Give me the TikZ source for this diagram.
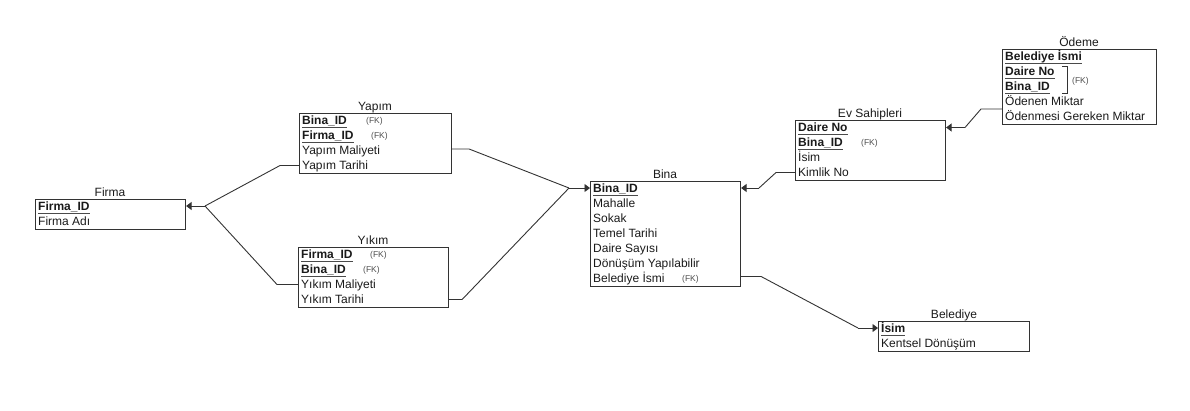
\documentclass[tikz,border=0pt]{standalone}
\usepackage{fontspec}
\setmainfont{Liberation Sans}
\usetikzlibrary{arrows.meta}
\definecolor{ln}{HTML}{333333}
\definecolor{txt}{HTML}{1a1a1a}
\definecolor{fkc}{HTML}{4d4d4d}
\definecolor{ulc}{HTML}{4a4a4a}
\newsavebox\pkeybox
\newcommand\pkey[1]{\sbox\pkeybox{\textbf{#1}}\rlap{\textcolor{ulc}{\rule[-3.6pt]{\wd\pkeybox}{1.1pt}}}\usebox\pkeybox}
\begin{document}
\begin{tikzpicture}[x=1pt,y=-1pt,
  tbl/.style={draw=ln, line width=1.1pt, anchor=north west, inner sep=0pt, minimum width=150pt},
  row/.style={anchor=base west, inner sep=0pt, text=txt, font=\fontsize{12}{14}\selectfont},
  ttl/.style={anchor=base, inner sep=0pt, text=txt, font=\fontsize{12}{14}\selectfont},
  fk/.style={anchor=base west, inner sep=0pt, text=fkc, font=\fontsize{8.5}{10}\selectfont},
  conn/.style={draw=ln, line width=0.9pt},
  arr/.style={-{Triangle[length=5.5pt,width=8pt]}}]
\useasboundingbox (0,0) rectangle (1190,410);

% ---------- Firma ----------
\node[tbl, minimum height=30pt] (firma) at (35,198.5) {};
\node[ttl] (firma-t) at (110,196) {Firma};
\node[row] (firma-1) at (38,210) {\pkey{Firma\_ID}};
\node[row] (firma-2) at (38,225) {Firma Adı};

% ---------- Yapim ----------
\node[tbl, minimum width=152pt, minimum height=60pt] (yapim) at (299,113) {};
\node[ttl] (yapim-t) at (375,110.5) {Yapım};
\node[row] (yapim-1) at (302,124.5) {\pkey{Bina\_ID}};
\node[fk] (yapim-1fk) at (366,123.5) {(FK)};
\node[row] (yapim-2) at (302,139.5) {\pkey{Firma\_ID}};
\node[fk] (yapim-2fk) at (371,138.5) {(FK)};
\node[row] (yapim-3) at (302,154.5) {Yapım Maliyeti};
\node[row] (yapim-4) at (302,169.5) {Yapım Tarihi};

% ---------- Yikim ----------
\node[tbl, minimum width=150pt, minimum height=60pt] (yikim) at (298,247) {};
\node[ttl] (yikim-t) at (373,244.5) {Yıkım};
\node[row] (yikim-1) at (301,258.5) {\pkey{Firma\_ID}};
\node[fk] (yikim-1fk) at (370,257.5) {(FK)};
\node[row] (yikim-2) at (301,273.5) {\pkey{Bina\_ID}};
\node[fk] (yikim-2fk) at (363,272.5) {(FK)};
\node[row] (yikim-3) at (301,288.5) {Yıkım Maliyeti};
\node[row] (yikim-4) at (301,303.5) {Yıkım Tarihi};

% ---------- Bina ----------
\node[tbl, minimum height=105pt] (bina) at (590,180.5) {};
\node[ttl] (bina-t) at (665,178) {Bina};
\node[row] (bina-1) at (593,192) {\pkey{Bina\_ID}};
\node[row] (bina-2) at (593,207) {Mahalle};
\node[row] (bina-3) at (593,222) {Sokak};
\node[row] (bina-4) at (593,237) {Temel Tarihi};
\node[row] (bina-5) at (593,252) {Daire Sayısı};
\node[row] (bina-6) at (593,267) {Dönüşüm Yapılabilir};
\node[row] (bina-7) at (593,282) {Belediye İsmi};
\node[fk] (bina-7fk) at (682,281) {(FK)};

% ---------- Ev Sahipleri ----------
\node[tbl, minimum height=60pt] (ev) at (795,120) {};
\node[ttl] (ev-t) at (870,117.5) {Ev Sahipleri};
\node[row] (ev-1) at (798,131.5) {\pkey{Daire No}};
\node[row] (ev-2) at (798,146.5) {\pkey{Bina\_ID}};
\node[fk] (ev-2fk) at (861,145.5) {(FK)};
\node[row] (ev-3) at (798,161.5) {İsim};
\node[row] (ev-4) at (798,176.5) {Kimlik No};

% ---------- Odeme ----------
\node[tbl, minimum width=154pt, minimum height=75pt] (odeme) at (1002,49) {};
\node[ttl] (odeme-t) at (1079,46.5) {Ödeme};
\node[row] (odeme-1) at (1005,60.5) {\pkey{Belediye İsmi}};
\node[row] (odeme-2) at (1005,75.5) {\pkey{Daire No}};
\node[row] (odeme-3) at (1005,90.5) {\pkey{Bina\_ID}};
\node[row] (odeme-4) at (1005,105.5) {Ödenen Miktar};
\node[row] (odeme-5) at (1005,120.5) {Ödenmesi Gereken Miktar};
\draw[ln, line width=1pt] (1062,66.5) -- (1067.5,66.5) -- (1067.5,93) -- (1062,93);
\node[fk] (odeme-fk) at (1072,83) {(FK)};

% ---------- Belediye ----------
\node[tbl, minimum width=151pt, minimum height=30pt] (belediye) at (878,320.5) {};
\node[ttl] (belediye-t) at (954,318) {Belediye};
\node[row] (belediye-1) at (881,332) {\pkey{İsim}};
\node[row] (belediye-2) at (881,347) {Kentsel Dönüşüm};

% ---------- junctions ----------
\coordinate (jf) at (205,206);
\coordinate (jb) at (569,188);
\coordinate (eb) at (759,188);
\coordinate (oe) at (965,127.5);
\coordinate (bl) at (858,328);

% ---------- connectors ----------
\draw[conn] ([yshift=-52.5pt]yapim.north west) -- ++(-19,0) -- (jf);
\draw[conn] ([yshift=-37.5pt]yikim.north west) -- ++(-21,0) -- (jf);
\draw[conn,arr] (jf) -- ([yshift=-7.5pt]firma.north east);

\draw[conn] ([yshift=-36pt]yapim.north east) -- ++(17,0) -- (jb);
\draw[conn] ([yshift=-52.5pt]yikim.north east) -- ++(13,0) -- (jb);
\draw[conn,arr] (jb) -- ([yshift=-7.5pt]bina.north west);

\draw[conn] ([yshift=-52.5pt]ev.north west) -- ++(-19,0) -- (eb);
\draw[conn,arr] (eb) -- ([yshift=-7.5pt]bina.north east);

\draw[conn] ([yshift=-60pt]odeme.north west) -- ++(-21,0) -- (oe);
\draw[conn,arr] (oe) -- ([yshift=-7.5pt]ev.north east);

\draw[conn] ([yshift=-96pt]bina.north east) -- ++(20,0) -- (bl);
\draw[conn,arr] (bl) -- ([yshift=-7.5pt]belediye.north west);
\end{tikzpicture}
\end{document}
